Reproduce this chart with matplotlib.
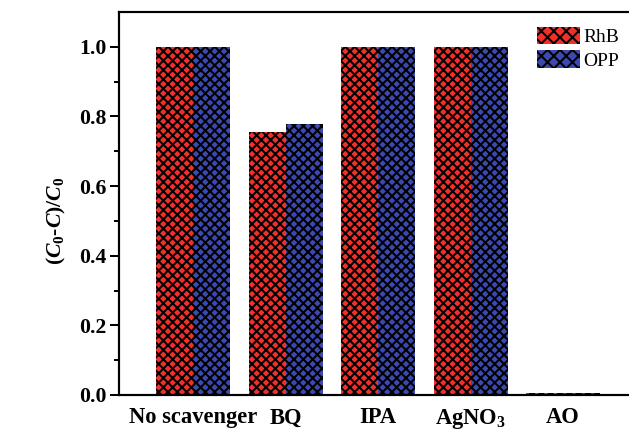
import matplotlib
matplotlib.use("Agg")
import matplotlib.pyplot as plt
from matplotlib.patches import Patch
import numpy as np

# data
scavengers = ["No scavenger", "BQ", "IPA", "AgNO$_3$", "AO"]
rhb = [1.0, 0.755, 1.0, 1.0, 0.006]
opp = [1.0, 0.778, 1.0, 1.0, 0.006]

red = "#f2302b"
blue = "#3b49b0"

plt.rcParams["font.family"] = ["Liberation Serif", "DejaVu Serif"]
plt.rcParams["font.weight"] = "bold"
plt.rcParams["mathtext.fontset"] = "custom"
plt.rcParams["mathtext.rm"] = "Liberation Serif:bold"
plt.rcParams["mathtext.it"] = "Liberation Serif:bold:italic"
plt.rcParams["mathtext.bf"] = "Liberation Serif:bold"
plt.rcParams["hatch.linewidth"] = 1.3
plt.rcParams["hatch.color"] = "black"

dpi = 112
fig = plt.figure(figsize=(629 / dpi, 431 / dpi), dpi=dpi)
W, H = 629, 431
ax = fig.add_axes([119 / W, (H - 395) / H, (637 - 119) / W, (395 - 12) / H])

x = np.arange(len(scavengers))
w = 0.4
ax.bar(x - w / 2, rhb, w, color=red, hatch="xxxx", linewidth=0)
ax.bar(x + w / 2, opp, w, color=blue, hatch="xxxx", linewidth=0)

ax.set_xlim(-0.8, 4.8)
ax.set_ylim(0, 1.1)

ax.set_xticks(x)
ax.set_xticklabels(scavengers, fontsize=14.5, fontweight="bold")
ax.set_yticks(np.arange(0, 1.01, 0.2))
ax.set_yticklabels(["%.1f" % v for v in np.arange(0, 1.01, 0.2)], fontsize=14, fontweight="bold")
ax.set_yticks(np.arange(0.1, 1.1, 0.2), minor=True)

ax.tick_params(axis="x", length=0, pad=8)
ax.tick_params(axis="y", which="major", direction="out", length=5.8, width=1.3, pad=2)
ax.tick_params(axis="y", which="minor", direction="out", length=3.4, width=1.3)

for s in ax.spines.values():
    s.set_linewidth(1.4)

ax.set_ylabel(r"$(C_0$-$C)/C_0$", fontsize=14, fontweight="bold")
ax.yaxis.set_label_coords(-0.099, 0.454)

handles = [Patch(facecolor=red, hatch="xxx", linewidth=0, label="RhB"),
           Patch(facecolor=blue, hatch="xxx", linewidth=0, label="OPP")]
fig.legend(handles=handles, loc="upper left", bbox_to_anchor=(537 / W, 1 - 27 / H),
           frameon=False, borderpad=0, borderaxespad=0,
           prop={"family": "Liberation Serif", "weight": "normal", "size": 12.5},
           handlelength=2.2, handleheight=1.0, handletextpad=0.2, labelspacing=0.2)

fig.savefig("out.png", dpi=dpi)
